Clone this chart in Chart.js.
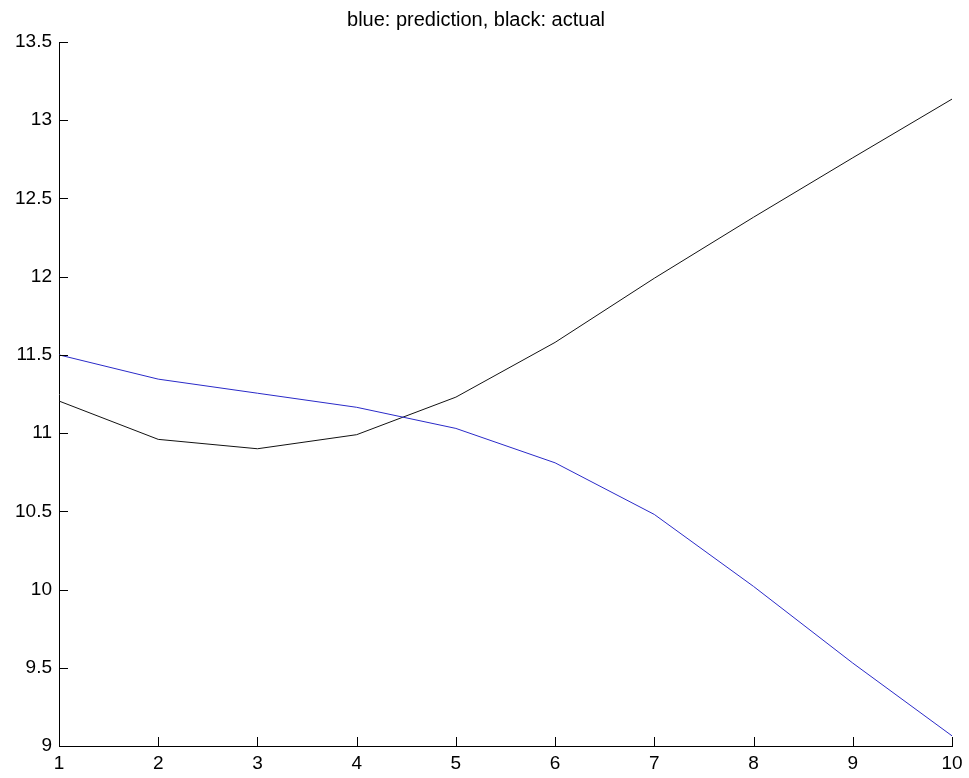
<!DOCTYPE html>
<html>
<head>
<meta charset="utf-8">
<script src="https://cdn.jsdelivr.net/npm/chart.js@4.4.1/dist/chart.umd.min.js"></script>
<style>
    html, body { margin: 0; padding: 0; background: #fff; }
    #wrap { width: 969px; height: 778px; }
</style>
</head>
<body>
<div id="wrap"><canvas id="myChart" width="969" height="778"></canvas></div>
<script>
const steps = [1, 2, 3, 4, 5, 6, 7, 8, 9, 10];
const prediction = [11.50, 11.345, 11.255, 11.165, 11.03, 10.81, 10.48, 10.02, 9.53, 9.065];
const actual = [11.205, 10.96, 10.90, 10.99, 11.23, 11.58, 11.99, 12.38, 12.76, 13.135];
const yTicks = [9, 9.5, 10, 10.5, 11, 11.5, 12, 12.5, 13, 13.5];

const tickFont = { family: "Liberation Sans, Arial", size: 19 };

// matlab style ticks, drawn inward from the axes
const inwardTicks = {
    id: "inwardTicks",
    afterDraw(chart) {
        const ctx = chart.ctx;
        const area = chart.chartArea;
        const x = chart.scales.x;
        const y = chart.scales.y;
        const len = 9;
        ctx.save();
        ctx.strokeStyle = "#000";
        ctx.lineWidth = 1;
        ctx.beginPath();
        steps.forEach(v => {
            const px = Math.round(x.getPixelForValue(v)) + 0.5;
            ctx.moveTo(px, area.bottom);
            ctx.lineTo(px, area.bottom - len);
        });
        yTicks.forEach(v => {
            const py = Math.round(y.getPixelForValue(v)) + 0.5;
            ctx.moveTo(area.left, py);
            ctx.lineTo(area.left + len, py);
        });
        ctx.stroke();
        ctx.restore();
    }
};

const ctx = document.getElementById("myChart").getContext("2d");
const myChart = new Chart(ctx, {
    type: "line",
    data: {
        datasets: [{
            label: "prediction",
            data: steps.map((s, i) => ({ x: s, y: prediction[i] })),
            borderColor: "#2a2ac8",
            borderWidth: 1,
            pointRadius: 0,
            tension: 0
        }, {
            label: "actual",
            data: steps.map((s, i) => ({ x: s, y: actual[i] })),
            borderColor: "#111",
            borderWidth: 1,
            pointRadius: 0,
            tension: 0
        }]
    },
    options: {
        responsive: false,
        animation: false,
        layout: { padding: { left: 0, right: 17, top: 0, bottom: 0 } },
        plugins: {
            legend: { display: false },
            tooltip: { enabled: false },
            title: {
                display: true,
                text: "blue: prediction, black: actual",
                color: "#000",
                font: { family: "Liberation Sans, Arial", size: 20, weight: "normal" },
                padding: { top: 8, bottom: 10 }
            }
        },
        scales: {
            x: {
                type: "linear",
                min: 1,
                max: 10,
                afterFit: scale => { scale.height = 32; },
                grid: { display: false, drawTicks: false },
                border: { display: true, color: "#000", width: 1 },
                ticks: {
                    stepSize: 1,
                    color: "#000",
                    font: tickFont,
                    padding: 6,
                    maxRotation: 0
                }
            },
            y: {
                min: 9,
                max: 13.5,
                afterFit: scale => { scale.width = 59; },
                afterBuildTicks: scale => { scale.ticks = yTicks.map(v => ({ value: v })); },
                grid: { display: false, drawTicks: false },
                border: { display: true, color: "#000", width: 1 },
                ticks: {
                    color: "#000",
                    font: tickFont,
                    padding: 7,
                    callback: v => String(v)
                }
            }
        }
    },
    plugins: [inwardTicks]
});
</script>
</body>
</html>
